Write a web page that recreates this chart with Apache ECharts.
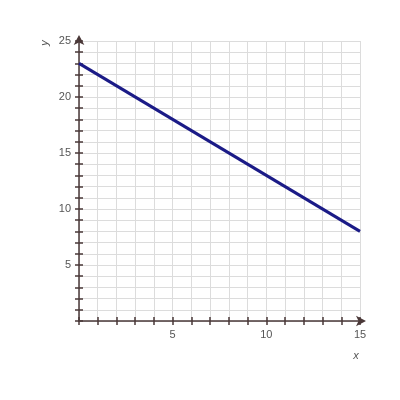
<!DOCTYPE html>
<html>
<head>
<meta charset="utf-8">
<script src="https://cdn.jsdelivr.net/npm/echarts@6/dist/echarts.min.js"></script>
<style>
  html, body { margin: 0; padding: 0; background: #fff; }
  #chart { width: 400px; height: 400px; }
</style>
</head>
<body>
<div id="chart"></div>
<script>
// line end points
var lineX = [0, 15];
var lineY = [23, 8];
var xTickLabels = [5, 10, 15];
var yTickLabels = [5, 10, 15, 20, 25];

var myChart = echarts.init(document.getElementById('chart'));

var tickColor = '#4a3838';
var labelColor = '#555';

function labelFmt(list) {
    return function (v) {
        return list.indexOf(v) >= 0 ? String(v) : '';
    };
}

var baseX = { type: 'value', min: 0, max: 15, interval: 1 };
var baseY = { type: 'value', min: 0, max: 25, interval: 1 };

var option = {
    animation: false,
    grid: { left: 79, right: 40, top: 41, bottom: 79 },
    // axis names
    graphic: [
        {
            type: 'text', x: 356, y: 356, rotation: 0,
            style: { text: 'x', fill: labelColor, font: 'italic 11px "Liberation Sans"', textAlign: 'center', textVerticalAlign: 'middle' }
        },
        {
            type: 'text', x: 45, y: 43, rotation: Math.PI / 2,
            style: { text: 'y', fill: labelColor, font: 'italic 11px "Liberation Sans"', textAlign: 'center', textVerticalAlign: 'middle' }
        }
    ],
    xAxis: [
        Object.assign({}, baseX, {
            axisLine: { show: true, lineStyle: { color: tickColor, width: 1.5 }, symbol: ['none', 'arrow'], symbolSize: [8, 10], symbolOffset: [0, 6] },
            axisTick: { show: true, length: 4, lineStyle: { color: tickColor, width: 1.5 } },
            axisLabel: { color: labelColor, fontSize: 11, fontFamily: 'Liberation Sans', margin: 8, formatter: labelFmt(xTickLabels) },
            splitLine: { show: true, lineStyle: { color: '#dcdcdc', width: 1 } }
        }),
        Object.assign({}, baseX, {
            position: 'bottom',
            axisLine: { show: false },
            axisTick: { show: true, inside: true, length: 4, lineStyle: { color: tickColor, width: 1.5 } },
            axisLabel: { show: false },
            splitLine: { show: false }
        })
    ],
    yAxis: [
        Object.assign({}, baseY, {
            axisLine: { show: true, lineStyle: { color: tickColor, width: 1.5 }, symbol: ['none', 'arrow'], symbolSize: [8, 10], symbolOffset: [0, 6] },
            axisTick: { show: true, length: 4, lineStyle: { color: tickColor, width: 1.5 } },
            axisLabel: { color: labelColor, fontSize: 11, fontFamily: 'Liberation Sans', margin: 8, formatter: labelFmt(yTickLabels) },
            splitLine: { show: true, lineStyle: { color: '#dcdcdc', width: 1 } }
        }),
        Object.assign({}, baseY, {
            position: 'left',
            axisLine: { show: false },
            axisTick: { show: true, inside: true, length: 4, lineStyle: { color: tickColor, width: 1.5 } },
            axisLabel: { show: false },
            splitLine: { show: false }
        })
    ],
    series: [
        {
            type: 'line',
            data: lineX.map(function (x, i) { return [x, lineY[i]]; }),
            symbol: 'none',
            lineStyle: { color: '#1b1b87', width: 3 }
        }
    ]
};

myChart.setOption(option);

window.onresize = function () {
    myChart.resize();
};
</script>
</body>
</html>
